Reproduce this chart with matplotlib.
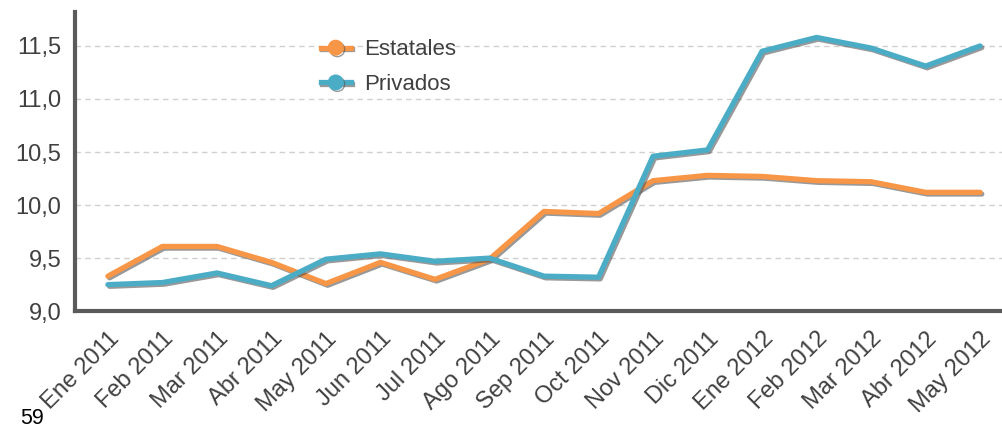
import numpy as np
import matplotlib.pyplot as plt
import matplotlib.patheffects as pe
from matplotlib.lines import Line2D

meses = ["Ene 2011", "Feb 2011", "Mar 2011", "Abr 2011", "May 2011", "Jun 2011",
         "Jul 2011", "Ago 2011", "Sep 2011", "Oct 2011", "Nov 2011", "Dic 2011",
         "Ene 2012", "Feb 2012", "Mar 2012", "Abr 2012", "May 2012"]
estatales = [9.33, 9.61, 9.61, 9.46, 9.26, 9.46, 9.30, 9.49, 9.94, 9.92,
             10.23, 10.28, 10.27, 10.23, 10.22, 10.12, 10.12]
privados = [9.25, 9.27, 9.36, 9.24, 9.49, 9.54, 9.47, 9.50, 9.33, 9.32,
            10.46, 10.52, 11.45, 11.58, 11.48, 11.31, 11.50]
yticks = [9.0, 9.5, 10.0, 10.5, 11.0, 11.5]

plt.rcParams['font.family'] = ['Liberation Sans', 'DejaVu Sans']

fig = plt.figure(figsize=(10.03, 4.28), dpi=100)
ax = fig.add_axes([0.075, 0.273, 0.925, 0.699])

x = np.arange(len(meses))
# linea con sombra gris desplazada
sombra = [pe.SimpleLineShadow(offset=(1.2, -1.2), shadow_color='#555555', alpha=0.6),
          pe.Normal()]
ax.plot(x, estatales, color="#F79646", linewidth=3.8, solid_capstyle='round',
        solid_joinstyle='round', path_effects=sombra, zorder=3)
ax.plot(x, privados, color="#4BACC6", linewidth=3.8, solid_capstyle='round',
        solid_joinstyle='round', path_effects=sombra, zorder=4)

ax.set_xlim(-0.6, 16.42)
ax.set_ylim(9.0, 11.82)
ax.set_yticks(yticks)
ax.set_yticklabels([f"{v:.1f}".replace(".", ",") for v in yticks],
                   fontsize=17, color="#404040")
ax.set_xticks(x)
ax.set_xticklabels(meses, rotation=45, ha='right',
                   rotation_mode='anchor', fontsize=17, color="#404040")
ax.tick_params(length=0)
ax.tick_params(axis='y', pad=10)
ax.tick_params(axis='x', pad=12)

ax.grid(axis='y', linestyle=(0, (4, 3)), color="#d0d0d0", linewidth=1)
ax.set_axisbelow(True)
for s in ["top", "right"]:
    ax.spines[s].set_visible(False)
for s in ["left", "bottom"]:
    ax.spines[s].set_color("#5a5a5a")
    ax.spines[s].set_linewidth(3)

handles = [Line2D([], [], color="#F79646", linewidth=3.8, marker='o', markersize=10.5,
                  path_effects=sombra),
           Line2D([], [], color="#4BACC6", linewidth=3.8, marker='o', markersize=10.5,
                  path_effects=sombra)]
ax.legend(handles, ["Estatales", "Privados"], loc='upper left',
          bbox_to_anchor=(0.243, 0.975), frameon=False, fontsize=16,
          handlelength=1.35, handletextpad=0.6, labelspacing=0.62,
          labelcolor="#404040")

fig.text(0.02, 0.01, "59", fontsize=15.5, color="black")

fig.savefig("out.png", dpi=100)
